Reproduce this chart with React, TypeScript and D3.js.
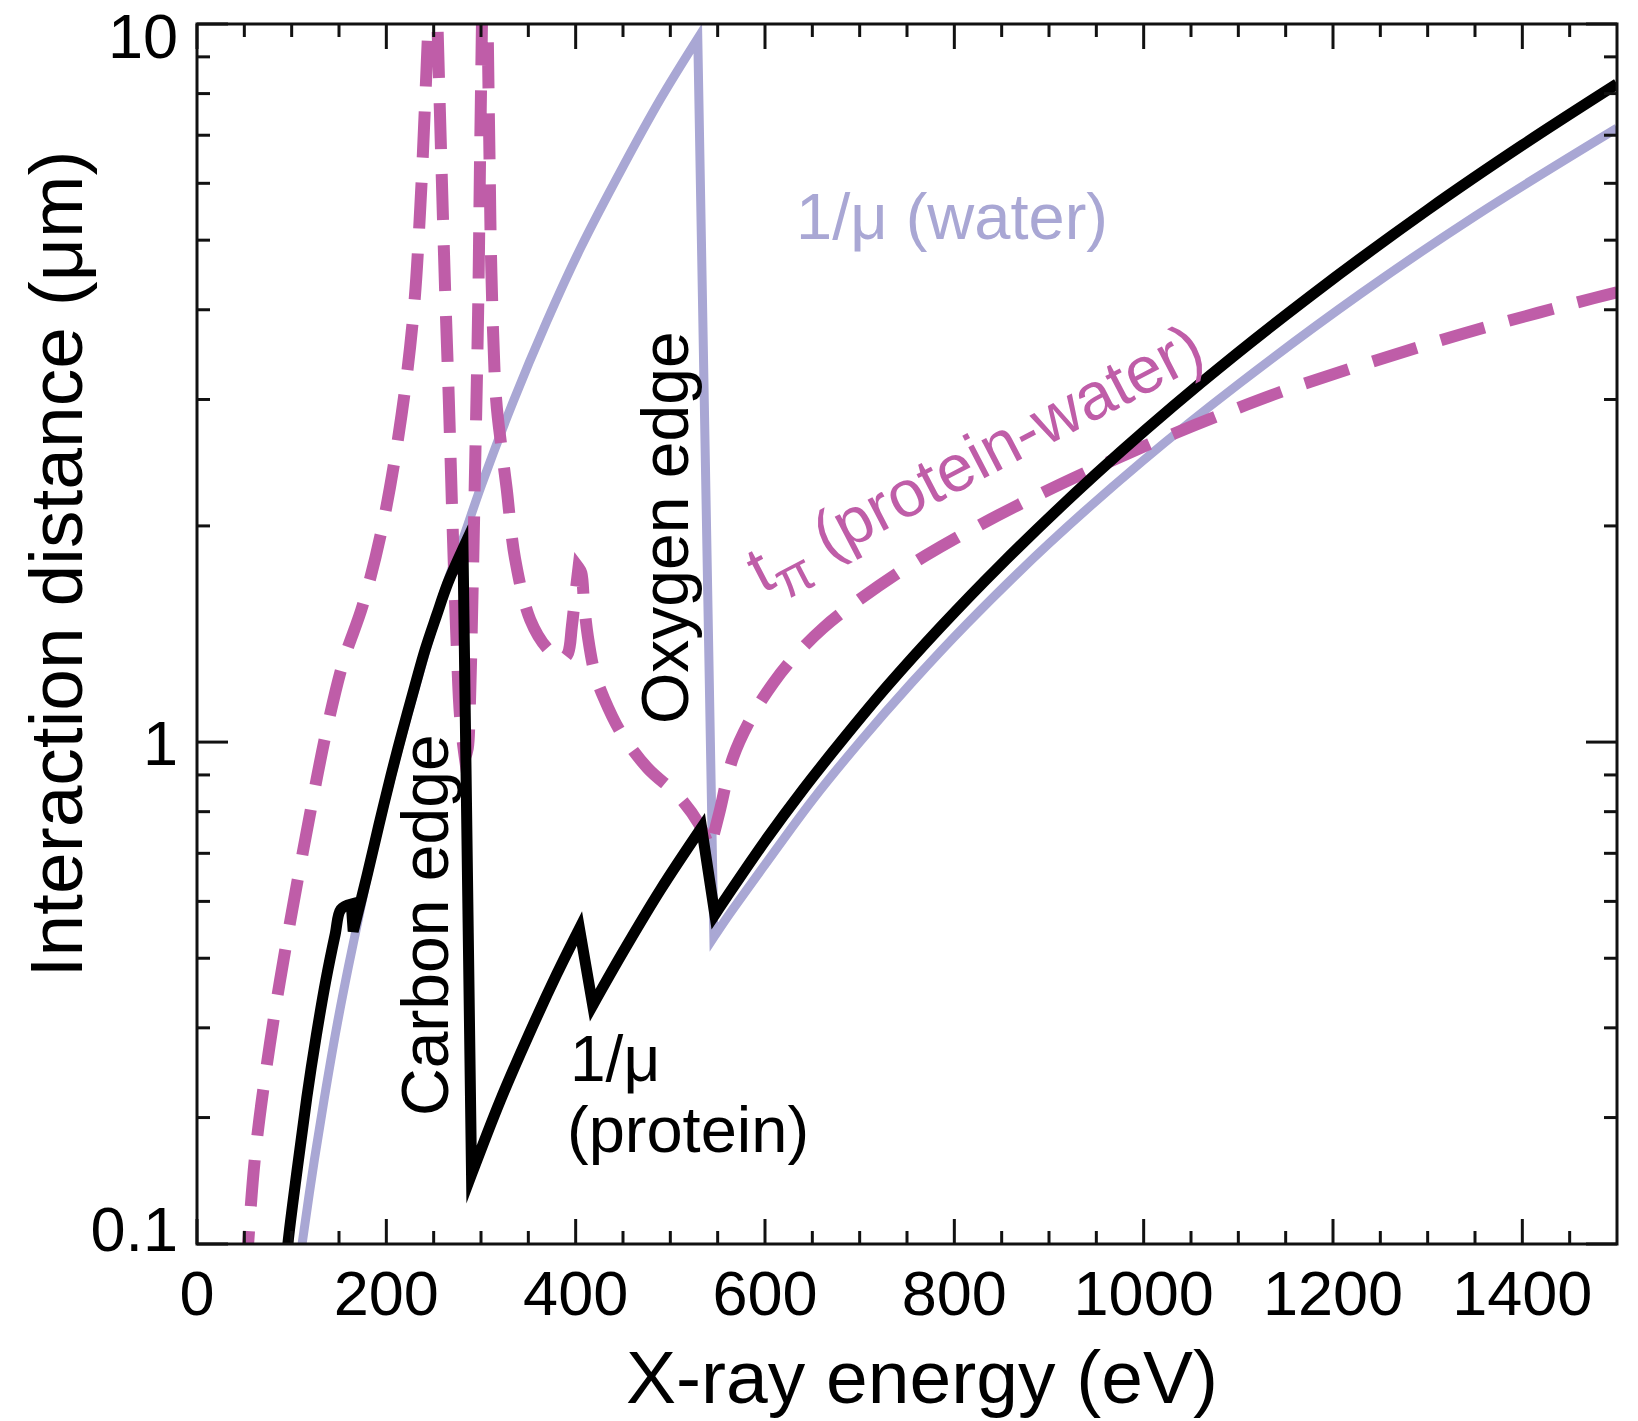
import React from 'react';
import * as d3 from 'd3';

type Pt = [number, number];

// 1/mu (protein): [energy eV, distance um]
const proteinCurve: Pt[] = [
  [94, 0.185], [96, 0.2], [106, 0.255], [116, 0.32], [126, 0.39], [136, 0.465], [146, 0.54], [152, 0.585], [163, 0.595], [165, 0.545],
  [180, 0.655], [192, 0.765], [205, 0.9], [217, 1.035], [230, 1.195], [241, 1.345], [253, 1.5], [265, 1.665], [281, 1.86],
  [290, 0.25], [320, 0.316], [350, 0.39], [380, 0.475], [404, 0.55],
  [418, 0.43], [450, 0.51], [490, 0.624], [533, 0.76],
  [547, 0.575], [560, 0.61], [600, 0.728], [640, 0.858], [680, 1.0], [730, 1.2], [785, 1.444], [848, 1.76],
  [950, 2.365], [1060, 3.16], [1175, 4.17], [1300, 5.51], [1400, 6.78], [1500, 8.25]
];

// 1/mu (water)
const waterCurve: Pt[] = [
  [109, 0.19], [111, 0.2], [124, 0.262], [136, 0.328], [148, 0.404], [160, 0.487], [172, 0.58], [184, 0.687], [196, 0.8],
  [209, 0.935], [225, 1.12], [241, 1.33], [253, 1.5], [265, 1.68], [281, 1.92], [300, 2.27], [334, 2.98], [369, 3.84],
  [405, 4.87], [450, 6.33], [490, 7.88], [529, 9.55],
  [546, 0.535], [560, 0.57], [600, 0.675], [650, 0.83], [700, 1.0], [755, 1.21], [813, 1.46], [900, 1.89], [1000, 2.47],
  [1100, 3.15], [1228, 4.2], [1350, 5.4], [1500, 7.16]
];

// t_pi (protein-water)
const contrastCurve: Pt[] = [
  [52, 0.18], [54, 0.2], [62, 0.27], [77, 0.38], [95, 0.53], [115, 0.74], [137, 1.04], [155, 1.3], [175, 1.55],
  [196, 2.0], [216, 2.85], [229, 4.0], [236, 5.6], [241, 7.8], [245, 10.5], [248, 14],
  [251, 14], [254, 10], [258, 6.5], [262, 4.3], [266, 3.0], [270, 2.0], [274, 1.4], [278, 1.08], [283, 0.95],
  [286, 0.98], [288, 1.1], [291, 1.6], [294, 2.5], [297, 4.0], [299, 6.5], [301, 10], [303, 16],
  [305, 16], [307, 10], [309, 6.5], [311, 4.5], [316, 3.0], [322, 2.55], [327, 2.26], [336, 1.8], [352, 1.48],
  [370, 1.35], [386, 1.3], [392, 1.33], [396, 1.45], [400, 1.62], [403, 1.75], [406, 1.72], [409, 1.55],
  [413, 1.4], [420, 1.25], [430, 1.15], [448, 1.03], [476, 0.92], [509, 0.84], [530, 0.77], [542, 0.71],
  [552, 0.8], [566, 0.95], [587, 1.09], [609, 1.21], [630, 1.31], [661, 1.44], [700, 1.58], [770, 1.82],
  [880, 2.18], [1006, 2.6], [1100, 2.92], [1165, 3.14], [1300, 3.58], [1376, 3.83], [1475, 4.15], [1500, 4.23]
];

const xTickValues = [0, 200, 400, 600, 800, 1000, 1200, 1400];
const xMinorTickValues = [50, 100, 150, 250, 300, 350, 450, 500, 550, 650, 700, 750, 850, 900, 950, 1050, 1100, 1150, 1250, 1300, 1350, 1450];
const yTickValues = [0.2, 1, 10];
const yTickLabels = ['0.1', '1', '10'];
const yMinorTickValues = [0.3, 0.4, 0.5, 0.6, 0.7, 0.8, 0.9, 2, 3, 4, 5, 6, 7, 8, 9];

const FONT = "'Liberation Sans', Arial, Helvetica, sans-serif";
const PINK = '#BF5DA8';
const LAVENDER = '#A9A7D4';

export default function App() {
  const W = 1638, H = 1421;
  const left = 197, right = 1617, top = 24, bottom = 1244;
  const x = d3.scaleLinear().domain([0, 1500]).range([left, right]);
  const y = d3.scaleLog().domain([0.2, 10]).range([bottom, top]);

  // smooth path through the points, keeping the sharp absorption-edge corners:
  // the series is cut into pieces that are monotone in y, each drawn with a Catmull-Rom spline.
  const smoothPath = (pts: Pt[]): string => {
    const px: [number, number][] = pts.map(d => [x(d[0]), y(d[1])]);
    const pieces: [number, number][][] = [];
    let cur: [number, number][] = [px[0]];
    let dir = 0;
    for (let i = 1; i < px.length; i++) {
      const s = Math.sign(px[i][1] - px[i - 1][1]);
      if (dir !== 0 && s !== 0 && s !== dir) {
        pieces.push(cur);
        cur = [px[i - 1]];
      }
      cur.push(px[i]);
      if (s !== 0) dir = s;
    }
    pieces.push(cur);
    const gen = d3.line<[number, number]>().curve(d3.curveCatmullRom.alpha(0.5));
    let d = '';
    pieces.forEach((p, k) => {
      let s = gen(p) || '';
      if (k > 0) s = s.replace(/^M[^LC]*/, '');
      d += s;
    });
    return d;
  };

  const tickW = 3;
  const xMajLen = 25, xMinLen = 13, yMajLen = 31, yMinLen = 13;

  return (
    <div style={{ position: 'absolute', left: 0, top: 0 }}>
      <svg width={W} height={H} viewBox={`0 0 ${W} ${H}`} style={{ display: 'block', background: '#fff' }}>
        <defs>
          <clipPath id="plotClip">
            <rect x={left} y={top} width={right - left} height={bottom - top} />
          </clipPath>
        </defs>
        <rect x={0} y={0} width={W} height={H} fill="#fff" />
        <g clipPath="url(#plotClip)">
          <path d={smoothPath(waterCurve)} fill="none" stroke={LAVENDER} strokeWidth={9} strokeLinejoin="miter" strokeMiterlimit={8} />
          <path d={smoothPath(contrastCurve)} fill="none" stroke={PINK} strokeWidth={12} strokeDasharray="46 25" strokeLinejoin="miter" />
          <path d={smoothPath(proteinCurve)} fill="none" stroke="#000" strokeWidth={11} strokeLinejoin="miter" strokeMiterlimit={6} />
        </g>

        {/* frame */}
        <rect x={left} y={top} width={right - left} height={bottom - top} fill="none" stroke="#111" strokeWidth={3} />

        {/* x ticks */}
        {xTickValues.map(v => (
          <g key={'xt' + v}>
            <line x1={x(v)} x2={x(v)} y1={bottom} y2={bottom - xMajLen} stroke="#111" strokeWidth={tickW} />
            <line x1={x(v)} x2={x(v)} y1={top} y2={top + xMajLen} stroke="#111" strokeWidth={tickW} />
            <text x={x(v)} y={bottom + 71} textAnchor="middle" fontFamily={FONT} fontSize={63} fill="#000">{v}</text>
          </g>
        ))}
        {xMinorTickValues.map(v => (
          <g key={'xm' + v}>
            <line x1={x(v)} x2={x(v)} y1={bottom} y2={bottom - xMinLen} stroke="#111" strokeWidth={tickW} />
            <line x1={x(v)} x2={x(v)} y1={top} y2={top + xMinLen} stroke="#111" strokeWidth={tickW} />
          </g>
        ))}

        {/* y ticks */}
        {yTickValues.map((v, i) => {
          const cy = Math.min(Math.max(y(v), top + 11), bottom - 16);
          return (
            <g key={'yt' + v}>
              <line x1={left} x2={left + yMajLen} y1={y(v)} y2={y(v)} stroke="#111" strokeWidth={tickW} />
              <line x1={right} x2={right - yMajLen} y1={y(v)} y2={y(v)} stroke="#111" strokeWidth={tickW} />
              <text x={left - 19} y={cy + 22.5} textAnchor="end" fontFamily={FONT} fontSize={63} fill="#000">{yTickLabels[i]}</text>
            </g>
          );
        })}
        {yMinorTickValues.map(v => (
          <g key={'ym' + v}>
            <line x1={left} x2={left + yMinLen} y1={y(v)} y2={y(v)} stroke="#111" strokeWidth={tickW} />
            <line x1={right} x2={right - yMinLen} y1={y(v)} y2={y(v)} stroke="#111" strokeWidth={tickW} />
          </g>
        ))}

        {/* axis titles */}
        <text x={922} y={1403} textAnchor="middle" fontFamily={FONT} fontSize={75} fill="#000">X-ray energy (eV)</text>
        <text transform="translate(82,564) rotate(-90)" textAnchor="middle" fontFamily={FONT} fontSize={75} fill="#000">Interaction distance (μm)</text>

        {/* annotations */}
        <text x={796} y={239} fontFamily={FONT} fontSize={65} fill={LAVENDER}>1/μ (water)</text>
        <text transform="translate(762,594) rotate(-27.5)" fontFamily={FONT} fontSize={66} fill={PINK}>
          <tspan>t</tspan>
          <tspan dy={17} fontSize={54}>π</tspan>
          <tspan dy={-17}> (protein-water)</tspan>
        </text>
        <text transform="translate(688,724) rotate(-90)" fontFamily={FONT} fontSize={66} fill="#000">Oxygen edge</text>
        <text transform="translate(448,1116) rotate(-90)" fontFamily={FONT} fontSize={66} fill="#000">Carbon edge</text>
        <text x={570} y={1081} fontFamily={FONT} fontSize={64} fill="#000">1/μ</text>
        <text x={567} y={1152} fontFamily={FONT} fontSize={65} fill="#000">(protein)</text>
      </svg>
    </div>
  );
}
